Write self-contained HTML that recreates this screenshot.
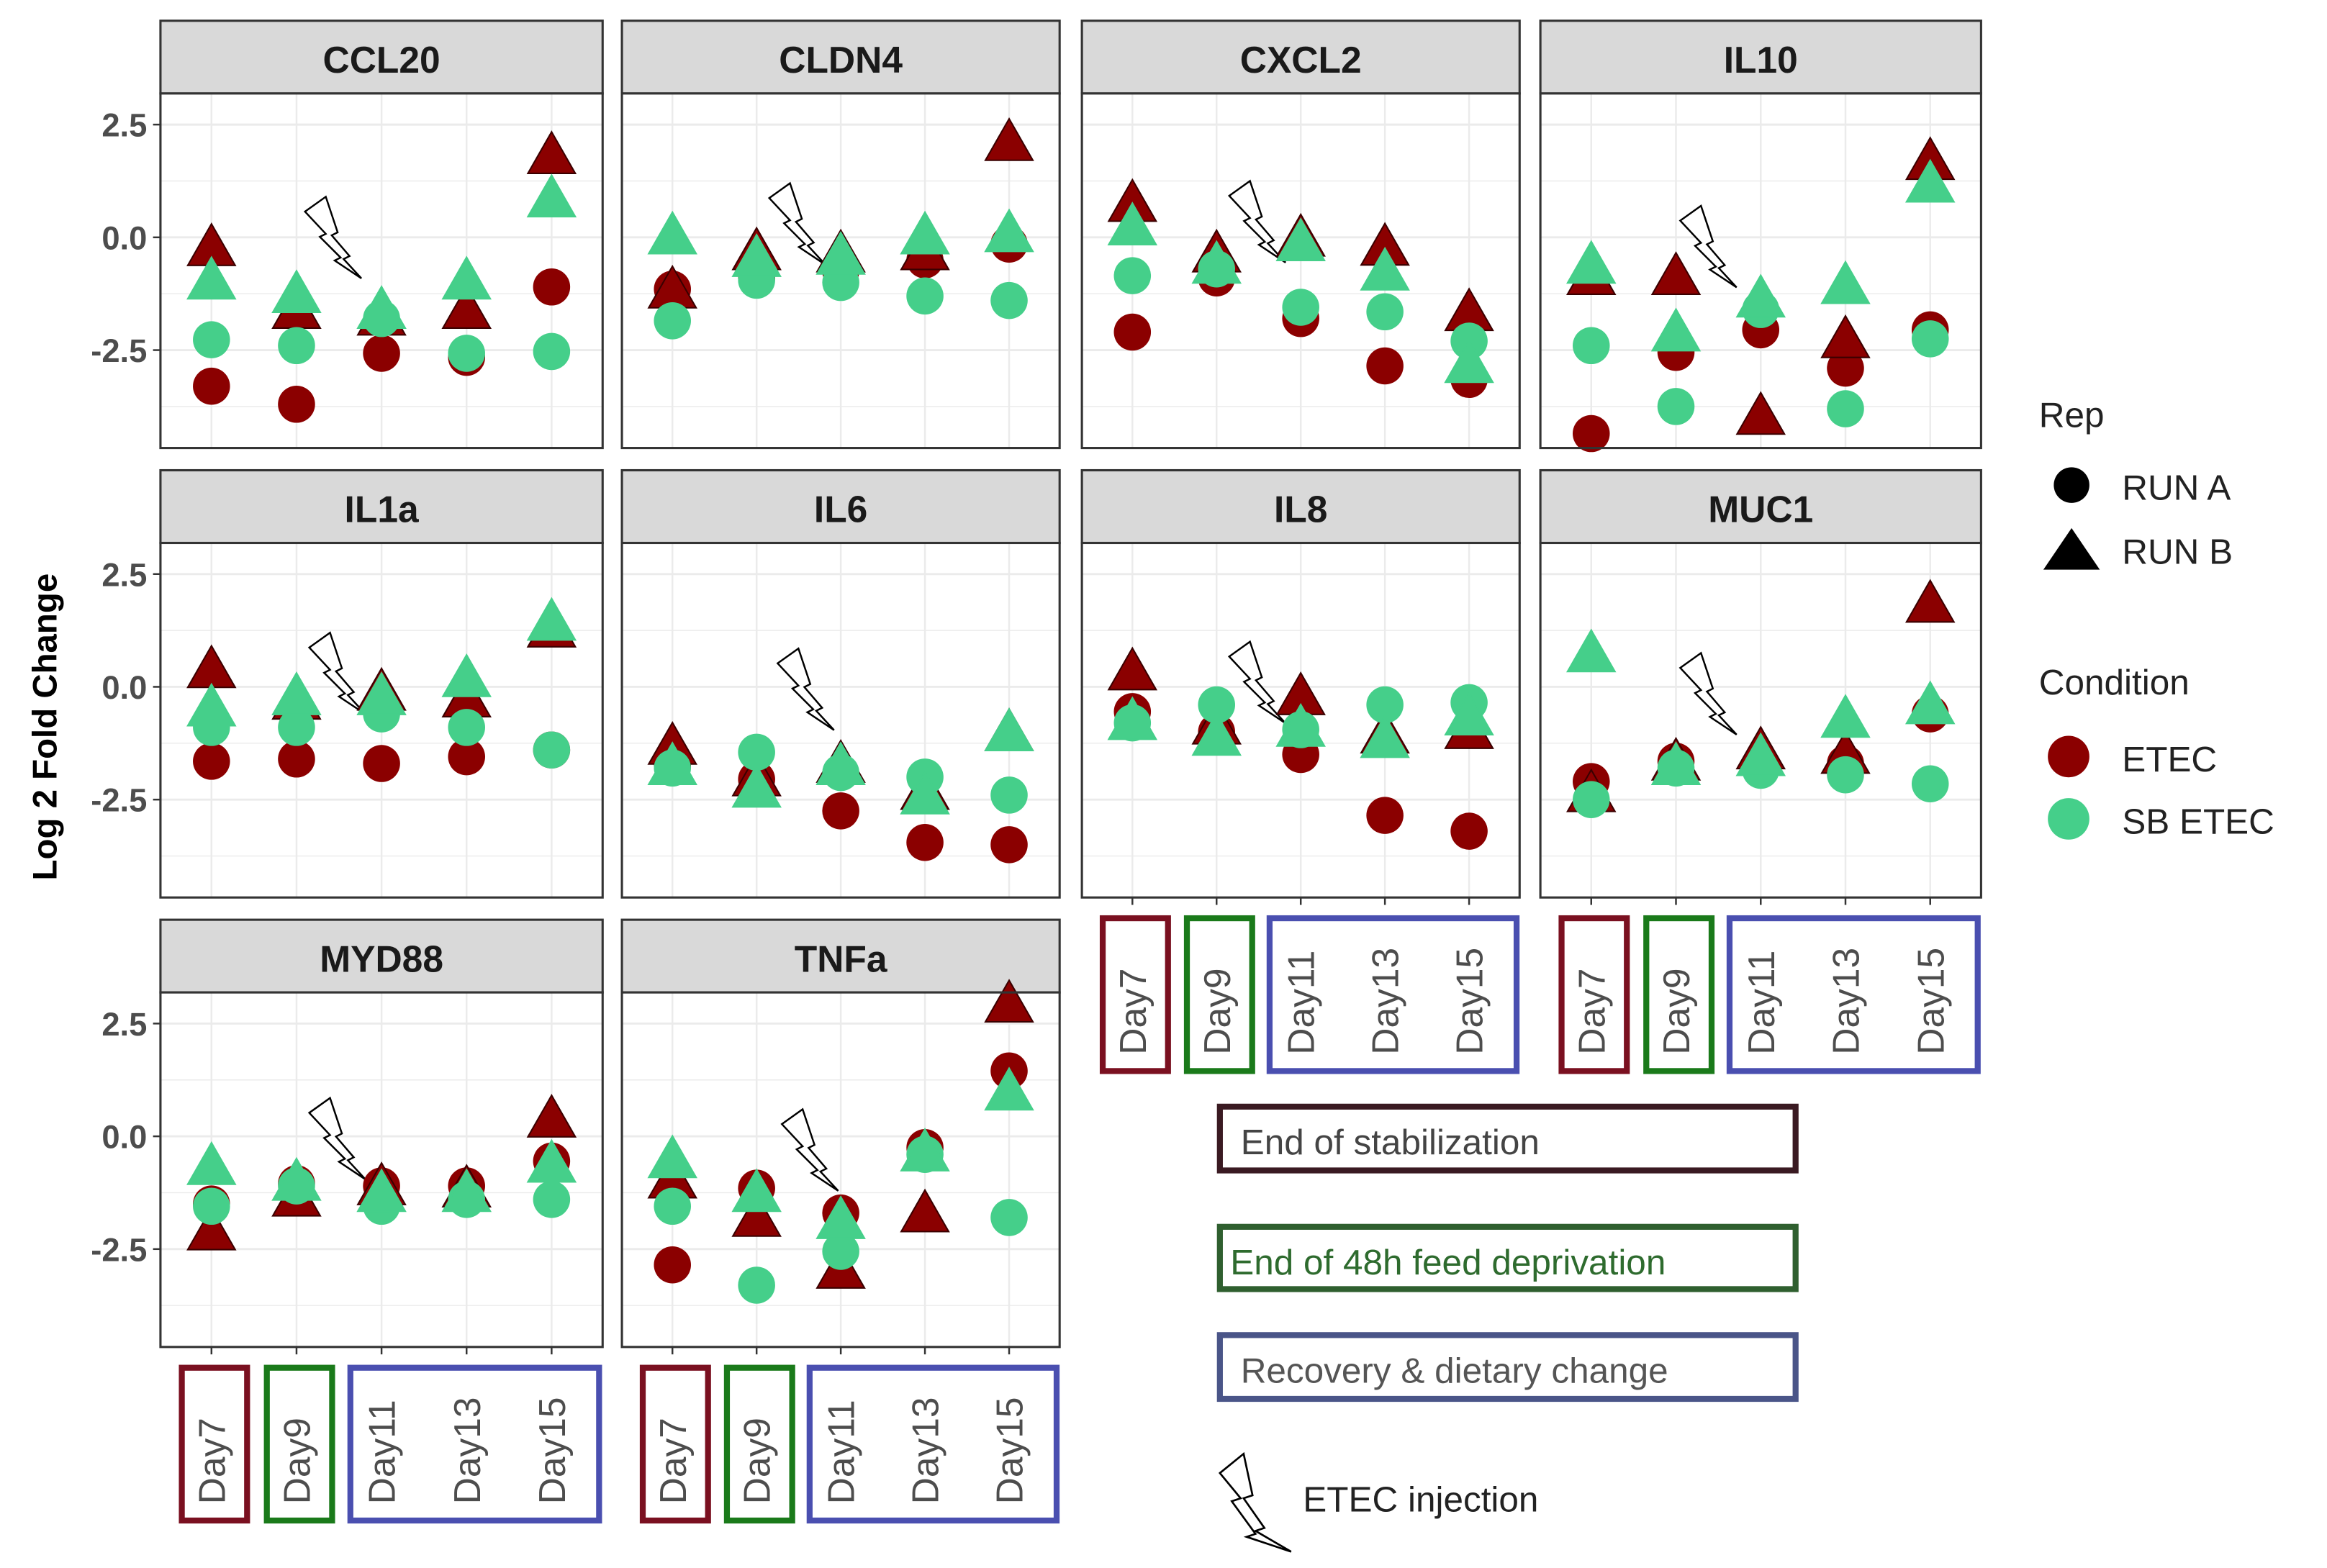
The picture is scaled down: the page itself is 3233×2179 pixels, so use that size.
<!DOCTYPE html>
<html><head><meta charset="utf-8">
<style>
html,body{margin:0;padding:0;background:#fff;}
svg{display:block;}
text{font-family:"Liberation Sans",Arial,sans-serif;}
</style></head>
<body>
<svg id="chart" width="3233" height="2179" viewBox="0 0 1568 1057" xmlns="http://www.w3.org/2000/svg">
<rect x="0" y="0" width="1568" height="1057" fill="#fff"/>
<g id="panels"></g>
<text x="38" y="490" transform="rotate(-90 38 490)" text-anchor="middle" font-size="23" font-weight="bold" fill="#000">Log 2 Fold Change</text>
<g>
<text x="1374" y="288" font-size="24" fill="#222">Rep</text>
<circle cx="1396" cy="327" r="12" fill="#000"/>
<text x="1430" y="337" font-size="24" fill="#222">RUN A</text>
<polygon points="1396,356 1415,384 1377,384" fill="#000"/>
<text x="1430" y="380" font-size="24" fill="#222">RUN B</text>
<text x="1374" y="468" font-size="24" fill="#222">Condition</text>
<circle cx="1394" cy="510" r="14" fill="#8b0000"/>
<text x="1430" y="520" font-size="24" fill="#222">ETEC</text>
<circle cx="1394" cy="552" r="14" fill="#45cf8a"/>
<text x="1430" y="562" font-size="24" fill="#222">SB ETEC</text>
</g>
<g>
<rect x="822" y="746" width="388" height="43" fill="#fff" stroke="#3a1a22" stroke-width="4"/>
<text x="836" y="778" font-size="24" fill="#444">End of stabilization</text>
<rect x="822" y="827" width="388" height="42" fill="#fff" stroke="#2f5f2f" stroke-width="4"/>
<text x="829" y="859" font-size="24" fill="#2e6b2e">End of 48h feed deprivation</text>
<rect x="822" y="900" width="388" height="43" fill="#fff" stroke="#4a5588" stroke-width="4"/>
<text x="836" y="932" font-size="24" fill="#555">Recovery &amp; dietary change</text>
<path d="M822,993 L838,980 L844,1008 L838,1010 L852,1030 L846,1032 L870,1046 L840,1036 L846,1034 L830,1012 L836,1010 Z" fill="#fff" stroke="#000" stroke-width="1.3"/>
<text x="878" y="1019" font-size="24" fill="#222">ETEC injection</text>
</g>
</svg>
<script>
const genes = ["CCL20","CLDN4","CXCL2","IL10","IL1a","IL6","IL8","MUC1","MYD88","TNFa"];
const days = ["Day7","Day9","Day11","Day13","Day15"];
const yTicks = [2.5, 0.0, -2.5];
const yTickLabels = ["2.5","0.0","-2.5"];
// values per gene: [Day7..Day15]
const etecRunA = [
 [-3.3,-3.7,-2.57,-2.66,-1.1],
 [-1.15,-0.9,-0.75,-0.5,-0.15],
 [-2.1,-0.9,-1.8,-2.85,-3.15],
 [-4.35,-2.55,-2.05,-2.9,-2.05],
 [-1.65,-1.6,-1.7,-1.55,-1.4],
 [-1.75,-2.05,-2.75,-3.45,-3.5],
 [-0.55,-1.0,-1.5,-2.85,-3.2],
 [-2.1,-1.65,-1.7,-1.7,-0.6],
 [-1.5,-1.05,-1.1,-1.1,-0.55],
 [-2.85,-1.15,-1.7,-0.25,1.45]
];
const etecRunB = [
 [-0.26,-1.65,-1.8,-1.65,1.78],
 [-1.2,-0.35,-0.4,-0.35,2.07],
 [0.72,-0.4,-0.05,-0.25,-1.7],
 [-0.9,-0.9,-4.0,-2.3,1.65],
 [0.35,-0.35,-0.15,-0.3,1.25],
 [-1.35,-2.05,-1.75,-2.35,-1.05],
 [0.3,-0.9,-0.25,-1.1,-1.0],
 [-2.4,-1.7,-1.45,-1.55,1.8],
 [-2.15,-1.4,-1.15,-1.2,0.35],
 [-1.0,-1.85,-3.0,-1.75,2.9]
];
const sbRunA = [
 [-2.27,-2.4,-1.8,-2.57,-2.53],
 [-1.85,-0.95,-1.0,-1.3,-1.4],
 [-0.85,-0.7,-1.55,-1.65,-2.3],
 [-2.4,-3.75,-1.6,-3.8,-2.25],
 [-0.9,-0.9,-0.6,-0.9,-1.4],
 [-1.8,-1.45,-1.9,-2.0,-2.4],
 [-0.8,-0.4,-0.95,-0.4,-0.35],
 [-2.5,-1.8,-1.85,-1.95,-2.15],
 [-1.55,-1.1,-1.55,-1.4,-1.4],
 [-1.55,-3.3,-2.55,-0.4,-1.8]
];
const sbRunB = [
 [-1.0,-1.3,-1.65,-1.0,0.82],
 [0.0,-0.5,-0.45,0.0,0.05],
 [0.2,-0.65,-0.15,-0.8,-2.85],
 [-0.65,-2.15,-1.4,-1.1,1.15],
 [-0.5,-0.25,-0.25,0.15,1.4],
 [-1.8,-2.3,-1.8,-2.45,-1.05],
 [-0.8,-1.15,-0.95,-1.2,-0.7],
 [0.7,-1.8,-1.6,-0.75,-0.45],
 [-0.7,-1.05,-1.3,-1.3,-0.65],
 [-0.55,-1.3,-1.9,-0.4,0.95]
];
const boltX = [1.1,1.15,1.15,1.05,1.15,1.25,1.15,1.05,1.15,1.3];
const boltY = [0.9,1.2,1.25,0.7,1.2,0.85,1.0,0.75,0.85,0.6];

const NS = "http://www.w3.org/2000/svg";
const root = document.getElementById("panels");
const colX = [108,419,729,1038], colW = [298,295,295,297];
const rowStrip = [14,317,620], stripH = 49, panelH = 239;
const RED = "#8b0000", GREEN = "#45cf8a";
const yMax = 3.19, yMin = -4.67;
function el(tag, attrs, parent){ const e=document.createElementNS(NS,tag); for(const k in attrs) e.setAttribute(k,attrs[k]); parent.appendChild(e); return e; }

genes.forEach((g, gi) => {
  const r = Math.floor(gi/4), c = gi%4;
  const px = colX[c], pw = colW[c], top = rowStrip[r]+stripH;
  const xS = i => px + (i+0.6)/5.2*pw;
  const yS = v => top + (yMax - v)/(yMax - yMin)*panelH;
  const G = el("g",{},root);
  
  
  const strip = el("rect",{x:px,y:rowStrip[r],width:pw,height:stripH,fill:"#d9d9d9",stroke:"#333","stroke-width":1.5},G);
  
  
  const st = el("text",{x:px+pw/2,y:rowStrip[r]+35,"text-anchor":"middle","font-size":25,"font-weight":"bold",fill:"#1a1a1a"},G);
  st.textContent = g;
  
  
  el("rect",{x:px,y:top,width:pw,height:panelH,fill:"#fff"},G);
  for (let v=-3.75; v<=3.0; v+=1.25){
    const major = Math.abs((v/2.5)-Math.round(v/2.5))<1e-6;
    el("line",{x1:px,x2:px+pw,y1:yS(v),y2:yS(v),stroke:"#ebebeb","stroke-width":major?1.4:0.7},G);
  }
  days.forEach((d,i)=> el("line",{x1:xS(i),x2:xS(i),y1:top,y2:top+panelH,stroke:"#ebebeb","stroke-width":1.2},G));
  // bolt (diagonal, top-left to bottom-right)
  const bx = xS(boltX[gi]), by = yS(boltY[gi]);
  const bolt = el("path",{d:`M${bx},${by+10} L${bx+14},${by} L${bx+22},${by+24} L${bx+18},${by+26} L${bx+30},${by+40} L${bx+26},${by+42} L${bx+38},${by+55} L${bx+20},${by+43} L${bx+24},${by+41} L${bx+10},${by+27} L${bx+14},${by+25} Z`,fill:"#fff",stroke:"#000","stroke-width":1.2},G);
  
  
  const series = [[etecRunA,RED,"c","etec-run-a"],[etecRunB,RED,"t","etec-run-b"],[sbRunA,GREEN,"c","sb-etec-run-a"],[sbRunB,GREEN,"t","sb-etec-run-b"]];
  series.forEach(([arr,col,shape,name])=>{
    arr[gi].forEach((v,i)=>{
      const x=xS(i), y=yS(v);
      let m;
      if(shape==="c") m = el("circle",{cx:x,cy:y,r:12.5,fill:col},G);
      else m = el("polygon",{points:`${x},${y-17} ${x+16},${y+11} ${x-16},${y+11}`,fill:col,stroke:col==RED?"#3a0000":col,"stroke-width":1},G);
      
      
    });
  });
  el("rect",{x:px,y:top,width:pw,height:panelH,fill:"none",stroke:"#333","stroke-width":1.5},G);
  if (c===0){
    yTicks.forEach((v,k)=>{
      el("line",{x1:px-5,x2:px,y1:yS(v),y2:yS(v),stroke:"#333","stroke-width":1.2},G);
      const t = el("text",{x:px-9,y:yS(v)+8,"text-anchor":"end","font-size":22,"font-weight":"bold",fill:"#4d4d4d"},G);
      t.textContent = yTickLabels[k];
      
      
    });
  }
  const bottomPanel = (r===2) || (r===1 && c>=2);
  if (bottomPanel){
    const by0 = top+panelH;
    days.forEach((d,i)=>{
      el("line",{x1:xS(i),x2:xS(i),y1:by0,y2:by0+5,stroke:"#333","stroke-width":1.2},G);
      const tx = xS(i)+9, ty = by0+106;
      const t = el("text",{x:tx,y:ty,transform:`rotate(-90 ${tx} ${ty})`,"font-size":25,fill:"#4d4d4d"},G);
      t.textContent = d;
      
      
    });
    const bt = by0+14, bh = 103;
    const b1 = el("rect",{x:xS(0)-20,y:bt,width:44,height:bh,fill:"none",stroke:"#7a1020","stroke-width":4},G);
    
    
    const b2 = el("rect",{x:xS(1)-20,y:bt,width:44,height:bh,fill:"none",stroke:"#1a7a1a","stroke-width":4},G);
    
    
    const b3 = el("rect",{x:xS(2)-21,y:bt,width:xS(4)-xS(2)+53,height:bh,fill:"none",stroke:"#4a4fb0","stroke-width":4},G);
    
    
  }
});
</script>
</body></html>
